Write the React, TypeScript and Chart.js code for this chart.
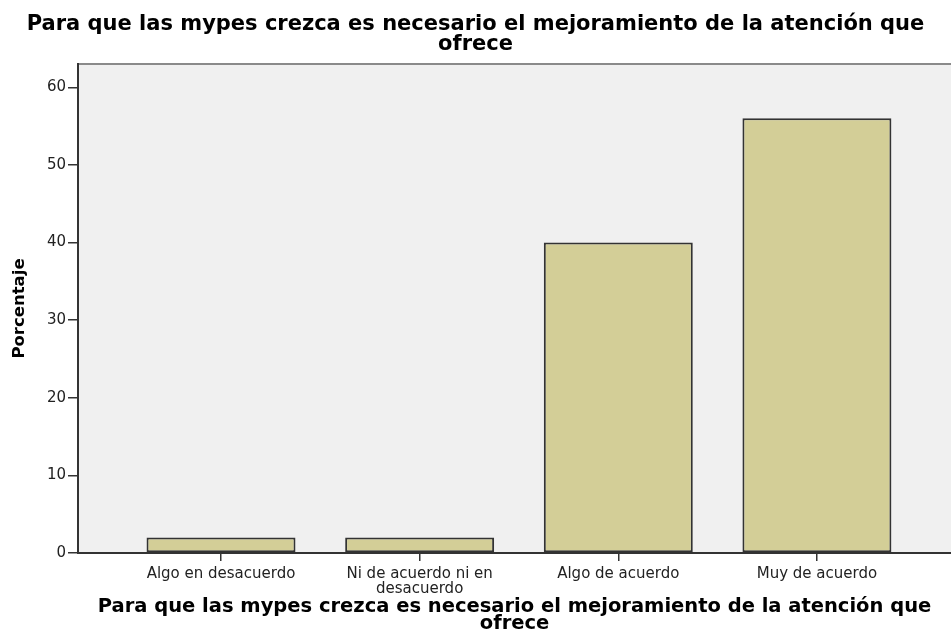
import React, { useEffect, useRef } from 'react';
import { Chart, registerables } from 'chart.js';

Chart.register(...registerables);

const categories = ['Algo en desacuerdo', 'Ni de acuerdo ni en desacuerdo', 'Algo de acuerdo', 'Muy de acuerdo'];
const categoryLabelLines = [['Algo en desacuerdo'], ['Ni de acuerdo ni en', 'desacuerdo'], ['Algo de acuerdo'], ['Muy de acuerdo']];
const percentages = [2, 2, 40, 56];
const yTickValues = [0, 10, 20, 30, 40, 50, 60];
const chartTitle = ['Para que las mypes crezca es necesario el mejoramiento de la atención que', 'ofrece'];
const xAxisTitle = ['Para que las mypes crezca es necesario el mejoramiento de la atención que', 'ofrece'];
const yAxisTitle = 'Porcentaje';

const FONT = "'DejaVu Sans', 'Liberation Sans', sans-serif";

const plotBackground = {
  id: 'plotBackground',
  beforeDraw(chart: any) {
    const { ctx, chartArea, width, height } = chart;
    ctx.save();
    ctx.fillStyle = '#ffffff';
    ctx.fillRect(0, 0, width, height);
    ctx.fillStyle = '#f0f0f0';
    ctx.fillRect(chartArea.left, chartArea.top, chartArea.right - chartArea.left, chartArea.bottom - chartArea.top);
    ctx.strokeStyle = '#8a8a8a';
    ctx.lineWidth = 2;
    ctx.beginPath();
    ctx.moveTo(chartArea.left, chartArea.top);
    ctx.lineTo(chartArea.right, chartArea.top);
    ctx.stroke();
    ctx.restore();
  },
};

export default function App() {
  const canvasRef = useRef<HTMLCanvasElement | null>(null);

  useEffect(() => {
    document.body.style.margin = '0';
    document.body.style.overflow = 'hidden';
    const canvas = canvasRef.current;
    if (!canvas) return;
    const chart = new Chart(canvas, {
      type: 'bar',
      data: {
        datasets: [
          {
            label: 'Porcentaje',
            data: percentages.map((v, i) => ({ x: i, y: v })),
            backgroundColor: '#d3ce97',
            borderColor: '#333333',
            borderWidth: 2,
            borderSkipped: false,
            barPercentage: 0.75,
            categoryPercentage: 1,
          } as any,
        ],
      },
      options: {
        animation: false,
        responsive: false,
        devicePixelRatio: 1,
        layout: { padding: 0 },
        plugins: {
          legend: { display: false },
          tooltip: { enabled: false },
          title: {
            display: true,
            text: chartTitle,
            color: '#000000',
            font: { family: FONT, size: 21, weight: 'bold', lineHeight: 20 / 21 },
            padding: { top: 15, bottom: 9 },
          },
        },
        scales: {
          x: {
            type: 'linear',
            offset: false,
            min: -0.72,
            max: 3.675,
            afterBuildTicks: (scale: any) => {
              scale.ticks = categories.map((_, i) => ({ value: i }));
            },
            afterFit: (scale: any) => {
              scale.height = 90;
            },
            ticks: {
              autoSkip: false,
              maxRotation: 0,
              minRotation: 0,
              padding: 6,
              color: '#222222',
              font: { family: FONT, size: 15, lineHeight: 1 },
              callback: (value: any) => categoryLabelLines[Math.round(Number(value))] ?? '',
            },
            grid: {
              display: true,
              offset: false,
              drawOnChartArea: false,
              drawTicks: true,
              tickLength: 8,
              color: '#333333',
              lineWidth: 1.5,
            },
            border: { display: true, color: '#333333', width: 2 },
            title: {
              display: true,
              text: xAxisTitle,
              color: '#000000',
              font: { family: FONT, size: 19.5, weight: 'bold', lineHeight: 16.5 / 19.5 },
              padding: { top: 0, bottom: 11.25 },
            },
          },
          y: {
            type: 'linear',
            min: 0,
            max: 63,
            afterBuildTicks: (scale: any) => {
              scale.ticks = yTickValues.map((v) => ({ value: v }));
            },
            afterFit: (scale: any) => {
              scale.width = 78;
            },
            ticks: {
              padding: 2,
              color: '#222222',
              font: { family: FONT, size: 15 },
            },
            grid: {
              display: true,
              drawOnChartArea: false,
              drawTicks: true,
              tickLength: 10,
              color: '#333333',
              lineWidth: 1.5,
            },
            border: { display: true, color: '#333333', width: 2 },
            title: {
              display: true,
              text: yAxisTitle,
              color: '#000000',
              font: { family: FONT, size: 16.5, weight: 'bold' },
              padding: { top: 10, bottom: 0 },
            },
          },
        },
      } as any,
      plugins: [plotBackground],
    });
    return () => chart.destroy();
  }, []);

  return <canvas ref={canvasRef} width={951} height={643} style={{ display: 'block' }} />;
}
